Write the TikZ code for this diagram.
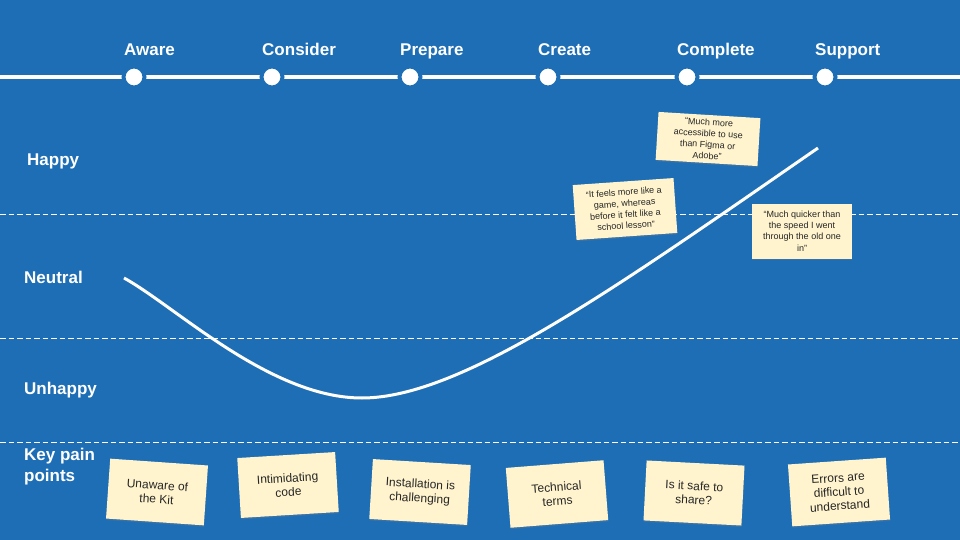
\documentclass[tikz,border=0pt]{standalone}
\usepackage{fontspec}
\setmainfont{Liberation Sans}
\usetikzlibrary{shadows}
\definecolor{bg}{RGB}{30,110,182}
\definecolor{note}{RGB}{255,244,206}
\definecolor{notetext}{RGB}{38,38,38}
\begin{document}
\begin{tikzpicture}[x=1pt,y=-1pt,
  stage/.style={font=\fontsize{17}{20}\selectfont\bfseries, text=white, anchor=base west, inner sep=0pt},
  mood/.style={font=\fontsize{17}{21}\selectfont\bfseries, text=white, anchor=base west, inner sep=0pt, align=left},
  stagedot/.style={circle, fill=white, draw=bg, line width=4pt, minimum size=21pt, inner sep=0pt},
  divider/.style={white, line width=1pt, dash pattern=on 5.5pt off 3pt},
  stickybase/.style={fill=note, drop shadow={opacity=0.25, shadow xshift=0.3pt, shadow yshift=-1.5pt}, align=center, text=notetext, inner sep=2pt},
  pain/.style={stickybase, minimum width=98pt, minimum height=60pt, font=\fontsize{12}{14}\selectfont},
  quotenote/.style={stickybase, font=\fontsize{9}{11.2}\selectfont}
]
\useasboundingbox (0,0) rectangle (960,540);
\fill[bg] (0,0) rectangle (960,540);

% dividers
\coordinate (d1a) at (0,214); \coordinate (d1b) at (960,214);
\coordinate (d2a) at (0,338); \coordinate (d2b) at (960,338);
\coordinate (d3a) at (0,442); \coordinate (d3b) at (960,442);
\draw[divider] (d1a) -- (d1b);
\draw[divider] (d2a) -- (d2b);
\draw[divider] (d3a) -- (d3b);

% timeline
\coordinate (tl) at (0,77); \coordinate (tr) at (960,77);
\draw[white, line width=3.5pt] (tl) -- (tr);
\node[stagedot] (s1) at (134,77) {};
\node[stagedot] (s2) at (272,77) {};
\node[stagedot] (s3) at (410,77) {};
\node[stagedot] (s4) at (548,77) {};
\node[stagedot] (s5) at (687,77) {};
\node[stagedot] (s6) at (825,77) {};

\node[stage] (l1) at (124,55.5) {Aware};
\node[stage] (l2) at (262,55.5) {Consider};
\node[stage] (l3) at (400,55.5) {Prepare};
\node[stage] (l4) at (538,55.5) {Create};
\node[stage] (l5) at (677,55.5) {Complete};
\node[stage] (l6) at (815,55.5) {Support};

% mood labels
\node[mood] (happy) at (27,166) {Happy};
\node[mood] (neutral) at (24,283) {Neutral};
\node[mood] (unhappy) at (24,394) {Unhappy};
\node[mood] (pain) at (24,481) {Key pain\\points};

% curve
\coordinate (cstart) at (124,278);
\coordinate (cmin) at (362,398);
\coordinate (cend) at (818,148);
\draw[white, line width=3pt] (cstart) .. controls (175,306) and (270,398) .. (cmin)
  .. controls (462,398) and (618,286) .. (cend);

% quotes
\node[quotenote, minimum width=101pt, minimum height=55pt, rotate=4] (qa) at (625,209) {“It feels more like a\\game, whereas\\before it felt like a\\school lesson”};
\node[quotenote, minimum width=102pt, minimum height=48pt, rotate=-3.5] (qb) at (708,139) {“Much more\\accessible to use\\than Figma or\\Adobe”};
\node[quotenote, minimum width=100pt, minimum height=55pt] (qc) at (802,231) {“Much quicker than\\the speed I went\\through the old one\\in”};

% pain points
\node[pain, rotate=-4] (p1) at (157,492) {Unaware of\\the Kit};
\node[pain, rotate=3.5] (p2) at (288,485) {Intimidating\\code};
\node[pain, rotate=-3.5] (p3) at (420,492) {Installation is\\challenging};
\node[pain, rotate=4.5] (p4) at (557,494) {Technical\\terms};
\node[pain, rotate=-3] (p5) at (694,493) {Is it safe to\\share?};
\node[pain, rotate=4, minimum height=62pt] (p6) at (839,492) {Errors are\\difficult to\\understand};
\end{tikzpicture}
\end{document}
